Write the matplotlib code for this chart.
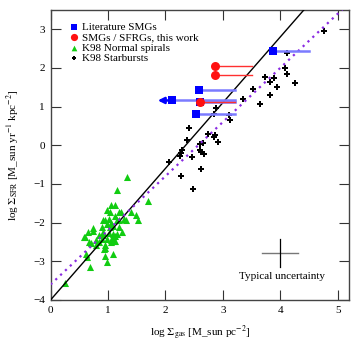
"""Star formation law: SFR surface density vs gas surface density"""
import matplotlib
matplotlib.use("Agg")
import matplotlib.pyplot as plt
import numpy as np

plt.rcParams['font.family'] = ['Liberation Serif', 'DejaVu Serif']
plt.rcParams['mathtext.fontset'] = 'stix'

# literature SMGs: position, right end of the gas range
lit_x = [3.87, 2.59, 2.12, 2.53, 2.61]
lit_y = [2.43, 1.42, 1.16, 0.80, 1.13]
lit_xmax = [4.51, 3.22, 3.22, 3.22, 3.22]
lit_arrow_to = 1.82  # upper limit for the 3rd source

# SMGs / SFRGs, this work
our_x = [2.87, 2.86, 2.61]
our_y = [2.04, 1.82, 1.13]
our_xmax = [3.51, 3.51, 3.22]

# Kennicutt 1998 normal spirals
spiral_x = [1.34, 1.15, 1.70, 1.05, 1.13, 0.98, 1.03, 1.19, 1.23, 1.12, 1.40, 1.48, 1.52,
            0.91, 1.02, 1.06, 1.15, 1.20, 1.28, 1.31, 0.89, 0.99, 1.03, 1.09, 1.20, 1.24,
            0.92, 0.74, 0.74, 0.65, 0.85, 0.92, 1.02, 1.09, 1.12, 1.16, 0.59, 0.67, 0.79,
            0.85, 0.90, 0.98, 1.06, 1.10, 0.80, 0.94, 0.93, 0.70, 0.94, 1.08, 1.13, 1.05,
            0.62, 0.64, 0.95, 1.09, 0.98, 0.69, 0.25, 0.60, 0.95]
spiral_y = [-0.82, -1.15, -1.43, -1.54, -1.54, -1.68, -1.73, -1.73, -1.73, -1.82, -1.72, -1.79, -1.94,
            -1.93, -1.91, -2.00, -1.93, -1.93, -1.91, -1.93, -2.10, -2.04, -2.10, -2.09, -2.10, -2.24,
            -2.23, -2.13, -2.22, -2.23, -2.33, -2.33, -2.28, -2.30, -2.34, -2.30, -2.38, -2.50, -2.44,
            -2.49, -2.43, -2.43, -2.45, -2.48, -2.58, -2.58, -2.69, -2.53, -2.66, -2.41, -2.47, -2.49,
            -2.81, -2.89, -2.86, -2.82, -3.02, -3.15, -3.56, -2.38, -1.93]

# Kennicutt 1998 starbursts
sb_x = [4.77, 4.11, 4.09, 4.12, 3.73, 3.90, 3.82, 4.26, 3.95, 3.52, 3.82, 3.35, 3.64,
        2.88, 2.84, 3.11, 3.13, 2.42, 2.75, 2.87, 2.84, 2.38, 2.91, 2.65, 2.61, 2.61,
        2.62, 2.68, 2.29, 2.27, 2.26, 2.47, 2.07, 2.62, 2.28, 2.49]
sb_y = [2.96, 2.38, 1.99, 1.85, 1.77, 1.74, 1.65, 1.61, 1.52, 1.45, 1.30, 1.21, 1.07,
        0.97, 0.82, 0.79, 0.65, 0.46, 0.29, 0.27, 0.21, 0.13, 0.09, 0.05, 0.03, -0.13,
        -0.17, -0.23, -0.13, -0.20, -0.27, -0.30, -0.44, -0.61, -0.80, -1.14]

# fits: (slope, intercept)
fit_solid = (1.7, -4.0)
fit_k98 = (1.4, -3.6)

# typical uncertainty cross
unc_x, unc_y = 4.0, -2.78
unc_dx, unc_dy = 0.31, 0.36

fig = plt.figure(figsize=(3.61, 3.44), dpi=100)
ax = fig.add_axes([0.140, 0.128, 0.827, 0.843])

xx = np.array([0, 5.2])
ax.plot(xx, fit_solid[0] * xx + fit_solid[1], color='black', lw=1.0, zorder=4)
ax.plot(xx, fit_k98[0] * xx + fit_k98[1], color='#8a2be2', lw=1.6, ls=(0, (1, 2)), zorder=4)

ax.scatter(spiral_x, spiral_y, marker='^', s=26, color='#11cc11', lw=0, zorder=3,
           label='K98 Normal spirals')
ax.scatter(sb_x, sb_y, marker='P', s=18, color='black', lw=0, zorder=3,
           label='K98 Starbursts')

for x0, y0, x1 in zip(lit_x, lit_y, lit_xmax):
    ax.plot([x0, x1], [y0, y0], color='#7b7bff', lw=1.8, zorder=5)
ax.annotate('', xy=(lit_arrow_to, lit_y[2]), xytext=(lit_x[2], lit_y[2]),
            arrowprops=dict(arrowstyle='-|>', color='blue', lw=1.8, mutation_scale=9), zorder=5)
ax.scatter(lit_x, lit_y, marker='s', s=28, color='blue', lw=0, zorder=6,
           label='Literature SMGs')

for x0, y0, x1 in zip(our_x, our_y, our_xmax):
    ax.plot([x0, x1], [y0, y0], color='#ff3030', lw=1.0, zorder=7)
ax.scatter(our_x, our_y, marker='o', s=42, color='#ff1010', lw=0, zorder=8,
           label='SMGs / SFRGs, this work')

ax.plot([unc_x - unc_dx, unc_x + unc_dx], [unc_y, unc_y], color='#777777', lw=1.0)
ax.plot([unc_x, unc_x], [unc_y - unc_dy, unc_y + unc_dy], color='black', lw=0.9)
ax.text(unc_x + 0.03, unc_y - 0.62, 'Typical uncertainty', ha='center', va='center', fontsize=8)

handles, labels = ax.get_legend_handles_labels()
order = [2, 3, 0, 1]
ax.legend([handles[i] for i in order], [labels[i] for i in order], loc='upper left',
          frameon=False, fontsize=8, handletextpad=0.15, labelspacing=0.05, handlelength=1.0,
          borderaxespad=0.3, bbox_to_anchor=(0.035, 0.985), markerscale=0.8)

ax.set_xlim(0, 5.2)
ax.set_ylim(-4, 3.5)
ax.set_xticks(range(6))
ax.set_yticks(range(-4, 4))
ax.tick_params(direction='in', length=7, width=0.8, top=True, right=True,
               labelsize=8, colors='#333333', labelcolor='black', pad=4)
for s in ax.spines.values():
    s.set_color('#444444')
    s.set_linewidth(1.0)

ax.set_xlabel(r'log $\Sigma_{\rm gas}$ [M_sun pc$^{-2}$]', fontsize=8, labelpad=7)
ax.set_ylabel(r'log $\Sigma_{\rm SFR}$ [M_sun yr$^{-1}$ kpc$^{-2}$]', fontsize=8, labelpad=9)

fig.savefig('out.png', dpi=100)
